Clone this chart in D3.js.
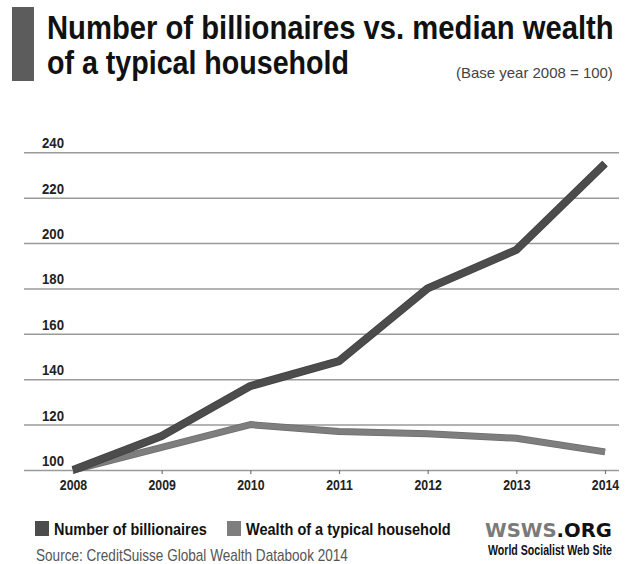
<!DOCTYPE html>
<html><head><meta charset="utf-8">
<script src="https://cdn.jsdelivr.net/npm/d3@7"></script>
<style>
html,body{margin:0;padding:0;background:#fff;}
svg{display:block;}
.cond{font-family:"Liberation Sans Narrow","Arial Narrow","Liberation Sans",Arial,sans-serif;}
</style></head>
<body>
<svg id="chart" width="625" height="564"></svg>
<script>
const years = [2008, 2009, 2010, 2011, 2012, 2013, 2014];
const billionaires = [100, 115, 137, 148, 180, 197, 235];
const household = [100, 110, 120, 117, 116, 114, 108];
const yTicks = [100, 120, 140, 160, 180, 200, 220, 240];
const seriesNames = ["Number of billionaires", "Wealth of a typical household"];
const seriesColors = ["#4c4c4c", "#7e7e7e"];

const svg = d3.select("#chart");
const W = 625, H = 564;
svg.append("rect").attr("width", W).attr("height", H).attr("fill", "#fff");

// place text at (x,y) and squeeze horizontally to the target width
function placeFit(parent, x, y, w, attrs, content) {
  const g = parent.append("g");
  const t = g.append("text").attr("x", 0).attr("y", 0);
  Object.entries(attrs).forEach(([k, v]) => t.attr(k, v));
  if (typeof content === "function") content(t); else t.text(content);
  const w0 = t.node().getComputedTextLength();
  g.attr("transform", `translate(${x},${y}) scale(${w / w0},1)`);
  return t;
}

// Title block
svg.append("rect").attr("x", 12).attr("y", 7).attr("width", 22).attr("height", 74).attr("fill", "#5c5c5c");
placeFit(svg, 47, 39, 567, {class: "cond", "font-size": 33, "font-weight": "bold", fill: "#111"},
  "Number of billionaires vs. median wealth");
placeFit(svg, 47, 74, 302, {class: "cond", "font-size": 33, "font-weight": "bold", fill: "#111"},
  "of a typical household");
placeFit(svg, 456, 78, 157, {class: "cond", "font-size": 14, fill: "#444"}, "(Base year 2008 = 100)");

// Scales
const x = d3.scaleLinear().domain([2008, 2014]).range([73, 605]);
const y = d3.scaleLinear().domain([100, 240]).range([470, 152.3]);

// Gridlines
const grid = svg.append("g").attr("transform", "translate(24,0)")
  .call(d3.axisLeft(y).tickValues(yTicks).tickSize(-595).tickFormat(""));
grid.select(".domain").remove();
grid.selectAll(".tick line").attr("stroke", "#9a9a9a").attr("stroke-width", 1.5);

// Y labels
yTicks.forEach(v => {
  placeFit(svg, 42, y(v) - 4, 22, {class: "cond", "font-size": 14, "font-weight": "bold", fill: "#222"}, String(v));
});

// X axis
const xa = svg.append("g").attr("transform", "translate(0,470)")
  .call(d3.axisBottom(x).tickValues(years).tickSize(4).tickFormat(d3.format("d")));
xa.select(".domain").remove();
xa.selectAll(".tick line").attr("stroke", "#777").attr("stroke-width", 1.2);
xa.selectAll(".tick text").attr("class", "cond").attr("font-size", 14).attr("font-weight", "bold")
  .attr("fill", "#222").attr("y", 10).attr("dy", "0.71em")
  .attr("transform", "scale(0.88,1)")
  .attr("x", 0);

// Lines
const line = d3.line().x((d, i) => x(years[i])).y(d => y(d));
[[household, seriesColors[1], 6], [billionaires, seriesColors[0], 7]].forEach(([data, col, w]) => {
  svg.append("path").attr("d", line(data)).attr("fill", "none")
    .attr("stroke", d3.color(col).darker(0.4)).attr("stroke-width", w + 1).attr("stroke-linejoin", "round");
  svg.append("path").attr("d", line(data)).attr("fill", "none")
    .attr("stroke", col).attr("stroke-width", w - 0.5).attr("stroke-linejoin", "round");
});

// Legend
const legX = [35, 227], legW = [153, 205];
seriesNames.forEach((n, i) => {
  svg.append("rect").attr("x", legX[i]).attr("y", 521).attr("width", 14).attr("height", 15)
    .attr("fill", seriesColors[i]);
  placeFit(svg, legX[i] + 19, 535, legW[i], {class: "cond", "font-size": 17, "font-weight": "bold", fill: "#111"}, n);
});

placeFit(svg, 36, 561, 312, {class: "cond", "font-size": 16, fill: "#555"},
  "Source: CreditSuisse Global Wealth Databook 2014");

// Logo
placeFit(svg, 485, 537, 127, {"font-family": "'DejaVu Sans', Verdana, sans-serif", "font-size": 20, "font-weight": "bold"},
  t => {
    t.append("tspan").attr("fill", "#7a7a7a").text("WSWS");
    t.append("tspan").attr("fill", "#111").text(".ORG");
  });
placeFit(svg, 488, 555, 124, {class: "cond", "font-size": 14, "font-weight": "bold", fill: "#111"},
  "World Socialist Web Site");
</script>
</body></html>
